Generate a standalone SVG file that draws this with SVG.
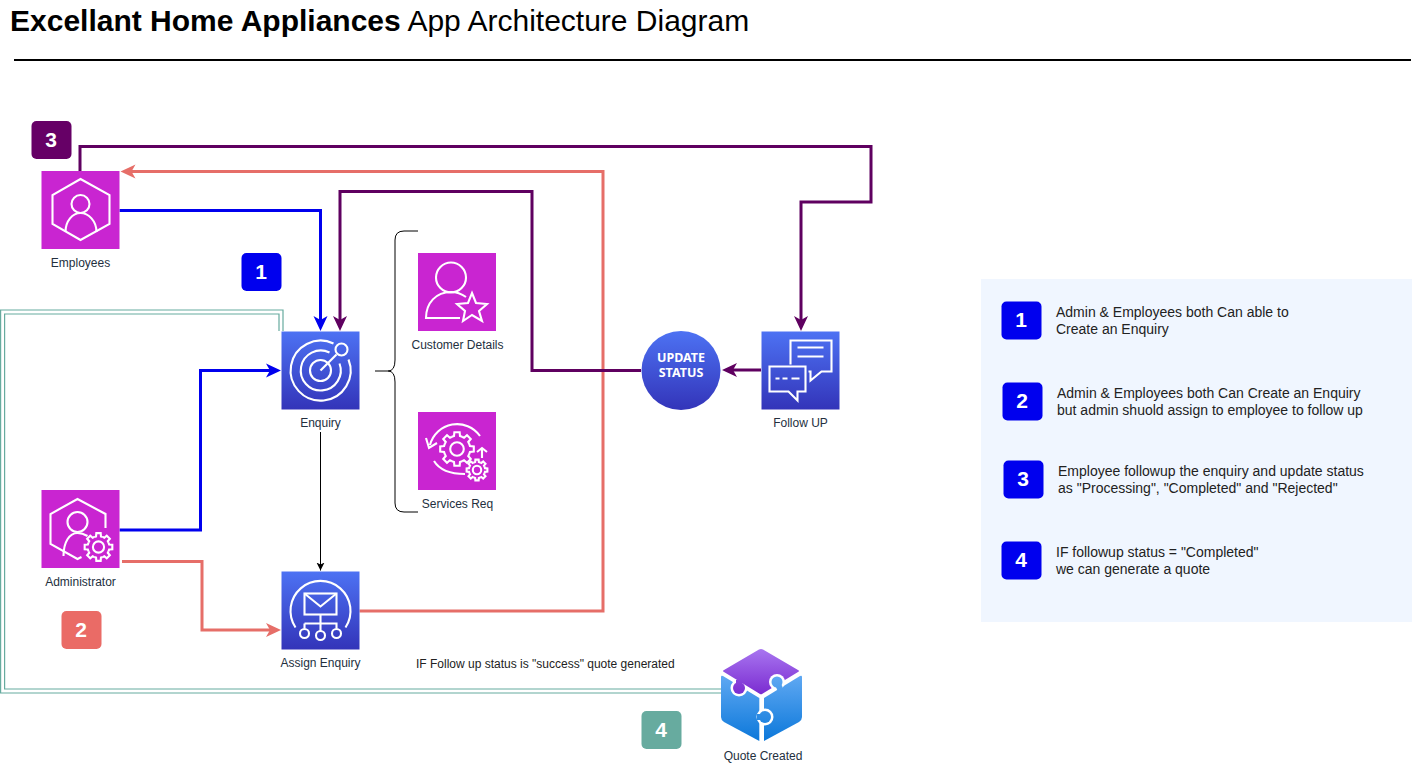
<svg xmlns="http://www.w3.org/2000/svg" xmlns:xlink="http://www.w3.org/1999/xlink" width="1413" height="763" viewBox="0 0 1413 763">
<style>
text{font-family:"Liberation Sans",Arial,sans-serif}
.lbl{font-size:12px;fill:#232F3E;text-anchor:middle}
.leg{font-size:14px;fill:#222}
.num{font-size:21px;font-weight:bold;fill:#fff;text-anchor:middle}
.con{fill:none;stroke-width:3}
.ic{fill:none;stroke:#fff;stroke-width:2.1}
.ns{vector-effect:non-scaling-stroke}
.teal{fill:none;stroke:#67AB9F;stroke-width:1.2}
.st{font-size:12.500px;font-weight:bold;fill:#fff;text-anchor:middle}
</style>
<defs>
<linearGradient id="gb" x1="0" y1="0" x2="0" y2="1"><stop offset="0" stop-color="#4D72F3"/><stop offset="1" stop-color="#3334B9"/></linearGradient>
<linearGradient id="gp" gradientUnits="userSpaceOnUse" x1="0" y1="649" x2="0" y2="695"><stop offset="0" stop-color="#A875F0"/><stop offset="1" stop-color="#7A2BD0"/></linearGradient>
<linearGradient id="gs" gradientUnits="userSpaceOnUse" x1="0" y1="676" x2="0" y2="741"><stop offset="0" stop-color="#5FA8F2"/><stop offset="1" stop-color="#0C78DA"/></linearGradient>
<marker id="aB" markerUnits="userSpaceOnUse" markerWidth="16" markerHeight="16" refX="10" refY="7.500" orient="auto"><path d="M0,.5 L15,7.500 L0,14.500 L4,7.500 Z" fill="#0000EE"/></marker>
<marker id="aP" markerUnits="userSpaceOnUse" markerWidth="16" markerHeight="16" refX="10" refY="7.500" orient="auto"><path d="M0,.5 L15,7.500 L0,14.500 L4,7.500 Z" fill="#5F0060"/></marker>
<marker id="aR" markerUnits="userSpaceOnUse" markerWidth="16" markerHeight="16" refX="10" refY="7.500" orient="auto"><path d="M0,.5 L15,7.500 L0,14.500 L4,7.500 Z" fill="#E66E68"/></marker>
<marker id="aK" markerUnits="userSpaceOnUse" markerWidth="9" markerHeight="9" refX="8" refY="4" orient="auto"><path d="M0,0 L8,4 L0,8 L2,4 Z" fill="#000"/></marker>
<path id="t" class="ns" d="M.72,-.3 L.76,-.175 L.988,-.156 L.988,.156 L.76,.175 L.72,.3"/>
<g id="gear"><use xlink:href="#t"/><use xlink:href="#t" transform="rotate(45)"/><use xlink:href="#t" transform="rotate(90)"/><use xlink:href="#t" transform="rotate(135)"/><use xlink:href="#t" transform="rotate(180)"/><use xlink:href="#t" transform="rotate(225)"/><use xlink:href="#t" transform="rotate(270)"/><use xlink:href="#t" transform="rotate(315)"/><circle class="ns" r=".4"/></g>
</defs>

<rect width="1413" height="763" fill="#fff"/>
<text x="10" y="31" font-size="30" fill="#000"><tspan font-weight="bold">Excellant Home Appliances</tspan> App Architecture Diagram</text>
<path d="M14 60H1411" stroke="#000" stroke-width="2"/>

<g id="legend">
<rect x="981" y="279" width="431" height="343" fill="#F0F6FF"/>
<rect x="1001.500" y="301.500" width="40" height="38" rx="5" fill="#0000EE"/><text class="num" x="1021" y="327">1</text>
<text class="leg" x="1056" y="317">Admin &amp; Employees both Can able to</text><text class="leg" x="1056" y="334">Create an Enquiry</text>
<rect x="1002.500" y="382.500" width="40" height="38" rx="5" fill="#0000EE"/><text class="num" x="1022" y="408">2</text>
<text class="leg" x="1057" y="398">Admin &amp; Employees both Can Create an Enquiry</text><text class="leg" x="1057" y="415">but admin shuold assign to employee to follow up</text>
<rect x="1003.500" y="460.500" width="40" height="38" rx="5" fill="#0000EE"/><text class="num" x="1023" y="486">3</text>
<text class="leg" x="1058" y="476">Employee followup the enquiry and update status</text><text class="leg" x="1058" y="493">as "Processing", "Completed" and "Rejected"</text>
<rect x="1001.500" y="541.500" width="40" height="38" rx="5" fill="#0000EE"/><text class="num" x="1021" y="567">4</text>
<text class="leg" x="1056" y="557">IF followup status = "Completed"</text><text class="leg" x="1056" y="574">we can generate a quote</text>
</g>

<g id="connectors">
<path class="teal" d="M283 331V310H.6V693H721"/>
<path class="teal" d="M279 331V314H4.600V689H721"/>
<path d="M418 231H404Q395 231 395 240V360Q395 371 388 371H375M388 371Q395 371 395 382V503Q395 512 404 512H418" fill="none" stroke="#000" stroke-width="1"/>
<path class="con" stroke="#E66E68" d="M359.500 611H603V171.500H125.500" marker-end="url(#aR)"/>
<path class="con" stroke="#5F0060" d="M80 171V146.500H871V202H801V326" marker-end="url(#aP)"/>
<path class="con" stroke="#5F0060" d="M641 370.500H532V191.500H340V326" marker-end="url(#aP)"/>
<path class="con" stroke="#5F0060" d="M761 370H727" marker-end="url(#aP)"/>
<path class="con" stroke="#0000EE" d="M119.500 210.500H320.500V326" marker-end="url(#aB)"/>
<path class="con" stroke="#0000EE" d="M119.500 530H200.500V370.500H276" marker-end="url(#aB)"/>
<path class="con" stroke="#E66E68" d="M122 561.500H202V630H276" marker-end="url(#aR)"/>
<path fill="none" stroke="#000" stroke-width="1" d="M320.500 432V570.500" marker-end="url(#aK)"/>
</g>

<g id="badge-3"><rect x="31.500" y="121" width="40" height="38" rx="5" fill="#660066"/><text class="num" x="51" y="147">3</text></g>
<g id="badge-1"><rect x="241.500" y="253" width="40" height="38" rx="5" fill="#0000EE"/><text class="num" x="261" y="279">1</text></g>
<g id="badge-2"><rect x="61.500" y="611" width="40" height="38" rx="5" fill="#EA6B66"/><text class="num" x="81" y="637">2</text></g>
<g id="badge-4"><rect x="641.500" y="711" width="40" height="38" rx="5" fill="#67AB9F"/><text class="num" x="661" y="737">4</text></g>

<g id="employees">
<rect x="41.500" y="171" width="78" height="78" fill="#C925D1"/>
<g class="ic" transform="translate(41.500 171)"><path d="M39 8L68 24V53L39 69L11 53V24Z"/><circle cx="39" cy="33" r="9"/><path d="M24 61C24 50 31 42 39 42S55 50 55 61"/></g>
<text class="lbl" x="80.500" y="267">Employees</text>
</g>

<g id="enquiry">
<rect x="281.500" y="331.500" width="78" height="78" fill="url(#gb)"/>
<g class="ic" transform="translate(281.500 331.500)"><path d="M52 12A30 30 0 1 0 67 28"/><path d="M48 21A20 20 0 1 0 58 32"/><circle cx="39" cy="39" r="10.500"/><circle cx="60" cy="18" r="6"/><path d="M55 23L39 39"/></g>
<text class="lbl" x="320.500" y="427">Enquiry</text>
</g>

<g id="customer-details">
<rect x="418" y="253" width="78" height="78" fill="#C925D1"/>
<g class="ic" transform="translate(418 253)"><circle cx="33" cy="24.500" r="15"/><path d="M42 65H8C8 50 18 39 33 39Q41 39 48 44"/><path d="M54 40L58 50L69 51L61 58L64 68L54 62L45 68L47 58L39 51L50 50Z"/></g>
<text class="lbl" x="457.500" y="349">Customer Details</text>
</g>

<g id="services-req">
<rect x="418" y="412" width="78" height="78" fill="#C925D1"/>
<g class="ic" transform="translate(418 412)"><use xlink:href="#gear" transform="translate(39 37) scale(17)"/><use xlink:href="#gear" transform="translate(59 58) scale(10.500)"/><path d="M62 24A28 28 0 0 0 12 33M8 26L11 36L19 31M16 49Q24 62 47 62M64 46V37M59 40L64 36L69 40"/></g>
<text class="lbl" x="457.500" y="508">Services Req</text>
</g>

<g id="update-status">
<circle cx="681" cy="370.500" r="39.500" fill="url(#gb)"/>
<text class="st" x="681" y="362" style="font-family:'Noto Sans',sans-serif">UPDATE</text>
<text class="st" x="681" y="377" style="font-family:'Noto Sans',sans-serif">STATUS</text>
</g>

<g id="follow-up">
<rect x="761.500" y="331.500" width="78" height="78" fill="url(#gb)"/>
<g class="ic" transform="translate(761.500 331.500)"><path d="M29 33V9H70V40H60L49 49V40H47"/><path d="M36 16H62M36 25H62"/><path d="M8 35H44V60H36V69L27 60H8Z"/><path d="M14 47H18M21 47H26M30 47H38"/></g>
<text class="lbl" x="800.500" y="427">Follow UP</text>
</g>

<g id="administrator">
<rect x="41.500" y="490" width="78" height="78" fill="#C925D1"/>
<g class="ic" transform="translate(41.500 490)"><path d="M64 38V24L36 9L9 24V54L36 69L40 67"/><circle cx="36" cy="32" r="10"/><path d="M22 66C22 52 28 43 36 43Q41 43 46 46"/><use xlink:href="#gear" transform="translate(57 57) scale(14)"/></g>
<text class="lbl" x="80.500" y="586">Administrator</text>
</g>

<g id="assign-enquiry">
<rect x="281.500" y="571.500" width="78" height="78" fill="url(#gb)"/>
<g class="ic" transform="translate(281.500 571.500)"><path d="M14 56A30 30 0 1 1 64 56"/><rect x="23" y="22" width="32" height="21"/><path d="M23 22L39 35L55 22"/><path d="M39 43V60M23 52H55V57M23 52V57"/><circle cx="23" cy="62" r="4.500"/><circle cx="39" cy="64" r="4.500"/><circle cx="55" cy="62" r="4.500"/></g>
<text class="lbl" x="320.500" y="667">Assign Enquiry</text>
</g>

<text x="416" y="668" font-size="12" fill="#222">IF Follow up status is "success" quote generated</text>

<g id="quote-created">
<path d="M721 677Q721 675 723 676L759.300 698V741L724 722Q721 720 721 717Z" fill="url(#gs)"/>
<path d="M802 677Q802 675 800 676L764 698V741L799 722Q802 720 802 717Z" fill="url(#gs)"/>
<circle cx="739" cy="688" r="8.500" fill="#fff"/>
<circle cx="765" cy="717" r="8.500" fill="#fff"/>
<path d="M759 649.500Q761 648.500 763 649.500L798 670Q800 671 798 672L762 694Q761 694.500 760 694L724 672Q722 671 724 670Z" fill="url(#gp)"/>
<circle cx="739" cy="688" r="6" fill="url(#gp)"/>
<path d="M739 680V688" stroke="url(#gp)" stroke-width="6"/>
<circle cx="777" cy="682" r="8" fill="#fff"/>
<circle cx="777" cy="682" r="5.500" fill="url(#gs)"/>
<path d="M777 682L781 691" stroke="url(#gs)" stroke-width="6"/>
<circle cx="765" cy="717" r="6" fill="url(#gs)"/>
<path d="M757 717H765" stroke="url(#gs)" stroke-width="6"/>
<text class="lbl" x="763" y="760">Quote Created</text>
</g>
</svg>
